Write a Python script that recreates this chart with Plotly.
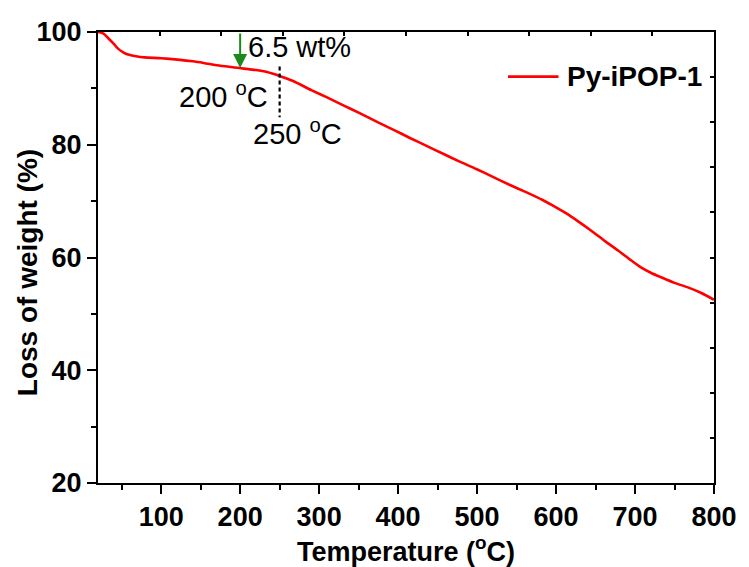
import plotly.graph_objects as go

# TGA curve of Py-iPOP-1
temperature = [20, 27, 33, 40, 45, 52, 58, 68, 79, 100, 121, 140, 154, 175, 199,
               220, 234, 250, 267, 290, 310, 332, 350, 374, 395, 415, 436, 457,
               478, 499, 520, 541, 562, 583, 600, 612, 628, 645, 662, 679, 694,
               708, 720, 733, 750, 767, 784, 800]
weight = [100, 99.7, 98.9, 97.9, 97.1, 96.4, 96.0, 95.7, 95.5, 95.35, 95.1, 94.8,
          94.5, 94.0, 93.6, 93.25, 92.9, 92.2, 91.3, 89.7, 88.4, 86.9, 85.7, 84.0,
          82.6, 81.2, 79.8, 78.4, 77.0, 75.7, 74.3, 72.9, 71.6, 70.2, 68.9, 67.9,
          66.4, 64.7, 62.9, 61.2, 59.6, 58.2, 57.3, 56.5, 55.5, 54.7, 53.7, 52.5]

series_name = "Py-iPOP-1"
x_ticks = [100, 200, 300, 400, 500, 600, 700, 800]
y_ticks = [20, 40, 60, 80, 100]

# marked temperatures
onset_t, onset_w = 200, 93.6
mark_t = 250
loss_text = "6.5 wt%"

FONT = "Liberation Sans, Arial, sans-serif"
RED = "#ff0000"

fig = go.Figure()
fig.add_trace(go.Scatter(
    x=temperature, y=weight, mode="lines", name=series_name, showlegend=False,
    line=dict(color=RED, width=2.6, shape="spline", smoothing=0.6),
))

# mirrored frame axes (top/right) with inward ticks
fig.add_trace(go.Scatter(x=[0], y=[0], xaxis="x2", yaxis="y2",
                         mode="markers", marker=dict(opacity=0),
                         showlegend=False, hoverinfo="skip"))

# dashed marker at 250 °C
fig.add_shape(type="line", x0=mark_t, x1=mark_t, y0=93.9, y1=84.9,
              xref="x", yref="y", line=dict(color="black", width=2.2, dash="4px,3px"))

# arrow at 200 °C
fig.add_annotation(x=onset_t, y=onset_w, ax=onset_t, ay=100, xref="x", yref="y",
                   axref="x", ayref="y", text="", showarrow=True,
                   arrowhead=2, arrowsize=1.4, arrowwidth=2, arrowcolor="#1a8a1a")

txt = dict(family=FONT, size=29, color="black")
fig.add_annotation(x=208, y=97.4, xref="x", yref="y", text=loss_text,
                   showarrow=False, xanchor="left", yanchor="middle", font=txt)
fig.add_annotation(x=179, y=88.9, xref="x", yref="y", text="200 <sup>o</sup>C",
                   showarrow=False, xanchor="center", yanchor="middle", font=txt)
fig.add_annotation(x=272, y=82.3, xref="x", yref="y", text="250 <sup>o</sup>C",
                   showarrow=False, xanchor="center", yanchor="middle", font=txt)

# legend entry
fig.add_shape(type="line", x0=0.6656, x1=0.7476, y0=0.901, y1=0.901,
              xref="paper", yref="paper", line=dict(color=RED, width=2.6))
fig.add_annotation(x=0.7588, y=0.901, xref="paper", yref="paper", text=series_name,
                   showarrow=False, xanchor="left", yanchor="middle",
                   font=dict(family=FONT, size=28, color="black", weight="bold"))

# y axis title
fig.add_annotation(x=-0.114, y=0.467, xref="paper", yref="paper",
                   text="Loss of weight (%)", textangle=-90, showarrow=False,
                   xanchor="center", yanchor="middle",
                   font=dict(family=FONT, size=28, color="black", weight="bold"))

tick_font = dict(family=FONT, size=27, color="black", weight="bold")

fig.update_layout(
    width=749, height=567,
    margin=dict(l=98, r=29, t=32, b=79),
    paper_bgcolor="white", plot_bgcolor="white",
    font=dict(family=FONT, color="black"),
    showlegend=False,
    xaxis=dict(
        range=[20, 800], tickvals=x_ticks, ticktext=[str(v) for v in x_ticks],
        ticks="outside", ticklen=9, tickwidth=2, tickcolor="black",
        showline=True, linewidth=2, linecolor="black", showgrid=False, zeroline=False,
        minor=dict(tickvals=[50, 150, 250, 350, 450, 550, 650, 750],
                   ticks="outside", ticklen=5, tickwidth=2, tickcolor="black"),
        tickfont=tick_font,
        title=dict(text="Temperature (<sup>o</sup>C)", standoff=4,
                   font=dict(family=FONT, size=27, color="black", weight="bold")),
    ),
    yaxis=dict(
        range=[20, 100], tickvals=y_ticks, ticktext=[str(v) for v in y_ticks],
        ticks="outside", ticklen=9, tickwidth=2, tickcolor="black",
        showline=True, linewidth=2, linecolor="black", showgrid=False, zeroline=False,
        minor=dict(tickvals=[30, 50, 70, 90],
                   ticks="outside", ticklen=5, tickwidth=2, tickcolor="black"),
        tickfont=tick_font,
    ),
    xaxis2=dict(overlaying="x", side="top", range=[0, 10], dtick=1,
                ticks="inside", ticklen=4, tickwidth=1.5, tickcolor="black",
                showticklabels=False, showline=True, linewidth=2, linecolor="black",
                showgrid=False, zeroline=False),
    yaxis2=dict(overlaying="y", side="right", range=[0, 10], dtick=1,
                ticks="inside", ticklen=4, tickwidth=1.5, tickcolor="black",
                showticklabels=False, showline=True, linewidth=2, linecolor="black",
                showgrid=False, zeroline=False),
)

fig.write_html("out.html")
